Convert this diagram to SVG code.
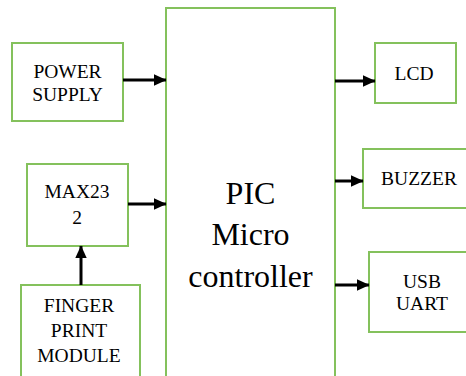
<svg xmlns="http://www.w3.org/2000/svg" width="466" height="376" viewBox="0 0 466 376">
<defs>
<style>
.box{fill:#ffffff;stroke:#84c15c;stroke-width:2}
.c{stroke:#000;stroke-width:3;fill:none}
.f{font-family:'Liberation Serif','DejaVu Serif',serif}
</style>
<marker id="ah" markerWidth="5" markerHeight="5" refX="4" refY="2.5" orient="auto" markerUnits="strokeWidth">
<path d="M0,0.6 L4.2,2.5 L0,4.4 Z" fill="#000"/>
</marker>
</defs>
<rect width="466" height="376" fill="#ffffff"/>
<g class="f" fill="#000" text-anchor="middle">
<g id="main">
<rect class="box" x="166" y="8" width="169" height="380"/>
<text font-size="32" x="250.5" y="204">PIC</text>
<text font-size="32" x="250.5" y="245">Micro</text>
<text font-size="32" x="250.5" y="287">controller</text>
</g>
<g id="power" font-size="19.5">
<rect class="box" x="12" y="43" width="111" height="78"/>
<text x="67.5" y="78">POWER</text>
<text x="67.5" y="101">SUPPLY</text>
</g>
<g id="max232" font-size="19.5">
<rect class="box" x="27" y="164" width="101" height="82"/>
<text x="77" y="198">MAX23</text>
<text x="77" y="224">2</text>
</g>
<g id="finger" font-size="19.5">
<rect class="box" x="21" y="285" width="119" height="100"/>
<text x="79" y="312">FINGER</text>
<text x="79" y="337">PRINT</text>
<text x="79" y="362">MODULE</text>
</g>
<g id="lcd" font-size="19.5">
<rect class="box" x="375" y="43" width="81" height="60"/>
<text x="414" y="80">LCD</text>
</g>
<g id="buzzer" font-size="19.5">
<rect class="box" x="363" y="149" width="110" height="59"/>
<text x="419" y="185">BUZZER</text>
</g>
<g id="usb" font-size="19.5">
<rect class="box" x="369" y="252" width="104" height="80"/>
<text x="422" y="288">USB</text>
<text x="422" y="310">UART</text>
</g>
</g>
<g id="connectors">
<path class="c" d="M123,80 L166,80" marker-end="url(#ah)"/>
<path class="c" d="M128,204 L166,204" marker-end="url(#ah)"/>
<path class="c" d="M81,285 L81,246" marker-end="url(#ah)"/>
<path class="c" d="M335,81 L375,81" marker-end="url(#ah)"/>
<path class="c" d="M335,181 L363,181" marker-end="url(#ah)"/>
<path class="c" d="M335,285 L369,285" marker-end="url(#ah)"/>
</g>
</svg>
